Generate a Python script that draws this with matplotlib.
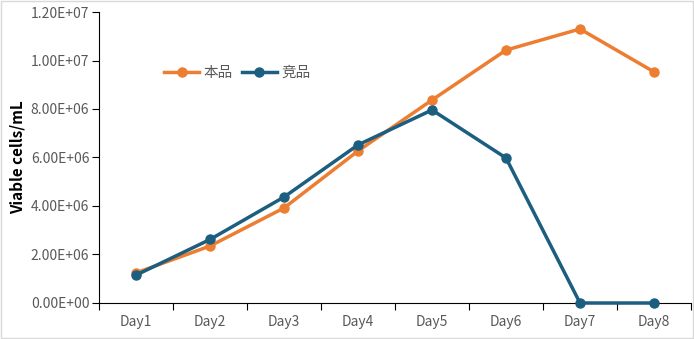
import numpy as np
import matplotlib.pyplot as plt
from matplotlib.patches import Rectangle

plt.rcParams['font.family'] = ['Noto Sans CJK SC', 'DejaVu Sans']

days = ["Day1", "Day2", "Day3", "Day4", "Day5", "Day6", "Day7", "Day8"]
ours = [1.24e6, 2.35e6, 3.92e6, 6.27e6, 8.37e6, 1.043e7, 1.13e7, 9.53e6]
rival = [1.15e6, 2.62e6, 4.37e6, 6.52e6, 7.96e6, 5.98e6, 0.0, 0.0]
yticks = [0, 2e6, 4e6, 6e6, 8e6, 1e7, 1.2e7]
ytick_labels = ["0.00E+00", "2.00E+06", "4.00E+06", "6.00E+06",
                "8.00E+06", "1.00E+07", "1.20E+07"]

orange = '#ED7D31'
blue = '#1B5E80'
gray_text = '#595959'

fig = plt.figure(figsize=(6.94, 3.39), dpi=100)
ax = fig.add_axes([0.1427, 0.1062, 0.853, 0.8584])

x = np.arange(len(days))
ax.plot(x, ours, color=orange, lw=2.5, marker='o', ms=6.5, label='本品', zorder=3)
ax.plot(x, rival, color=blue, lw=2.5, marker='o', ms=6.5, label='竞品', zorder=4,
        clip_on=False)

ax.set_xlim(-0.5, len(days) - 0.5)
ax.set_ylim(0, 1.2e7)
ax.set_yticks(yticks)
ax.set_yticklabels(ytick_labels)
ax.set_xticks(np.arange(-0.5, len(days)), labels=[])
ax.set_xticks(x, minor=True)
ax.set_xticklabels(days, minor=True)
ax.tick_params(axis='x', which='major', length=5, direction='out', color='black')
ax.tick_params(axis='x', which='minor', length=0, pad=9, labelsize=10, labelcolor=gray_text)
ax.tick_params(axis='y', length=5, direction='out', labelsize=10, labelcolor=gray_text, pad=2)

for s in ['top', 'right']:
    ax.spines[s].set_visible(False)
ax.spines['left'].set_color('black')
ax.spines['bottom'].set_color('black')

ax.set_ylabel('Viable cells/mL', fontsize=11, fontweight='bold', color='black', labelpad=4)

ax.legend(loc='upper left', bbox_to_anchor=(0.088, 0.86), ncol=2, frameon=False,
          fontsize=10.5, labelcolor=gray_text, handlelength=2.4, handletextpad=0.3,
          columnspacing=0.6)

fig.patches.append(Rectangle((0.002, 0.003), 0.996, 0.994, transform=fig.transFigure,
                             fill=False, edgecolor='#D9D9D9', lw=1))

fig.savefig('out.png', dpi=100)
